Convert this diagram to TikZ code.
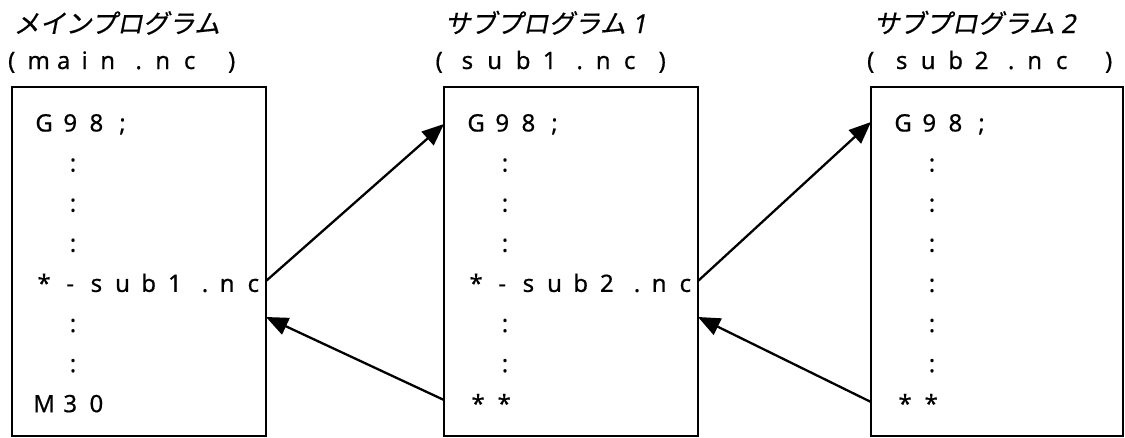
\documentclass[tikz,border=0pt]{standalone}
\usepackage{fontspec}
\setmainfont{Noto Sans}[FakeBold=0.5]
\newfontfamily\jpfont{Noto Sans CJK JP}[FakeSlant=0.2,FakeBold=0.5]
\newfontfamily\latslant{Noto Sans}[FakeSlant=0.2,FakeBold=0.5]
\usetikzlibrary{arrows.meta}
\makeatletter
\newlength\cellw \setlength\cellw{26.15pt}
\newcommand\cells[1]{\@tfor\lscc:=#1\do{\makebox[\cellw]{\lscc}}}
\makeatother
\newcommand\chat[2]{\rlap{\hspace*{#1pt}\makebox[0pt]{#2}}}
\begin{document}
\begin{tikzpicture}[x=1pt,y=-1pt,
  box/.style={draw, line width=2pt, minimum width=254pt, minimum height=349pt,
    inner sep=0pt, outer sep=0pt, anchor=north west},
  code/.style={anchor=base west, inner sep=0pt, font=\fontsize{24}{28}\selectfont},
  dotl/.style={anchor=base, inner sep=0pt, font=\fontsize{24}{28}\selectfont},
  title/.style={anchor=base west, inner sep=0pt, font=\fontsize{26}{30}\jpfont},
  fname/.style={anchor=base west, inner sep=0pt, font=\fontsize{24}{28}\selectfont},
  link/.style={line width=2.3pt, -{Triangle[length=22pt,width=18pt]}}
]
\useasboundingbox (0,0) rectangle (1125,437);

% boxes
\node[box] (b1) at (12,87) {};
\node[box] (b2) at (444,87) {};
\node[box, minimum width=252pt] (b3) at (871,87) {};

% titles
\node[title] (t1) at (13.5,33) {メインプログラム};
\node[title] (t2) at (444.5,33) {サブプログラム {\latslant 1}};
\node[title] (t3) at (873.5,33) {サブプログラム {\latslant 2}};

% file names
\node[fname] (f1) at (0,69) {\chat{11}{(}\chat{38}{m}\chat{63}{a}\chat{84}{i}\chat{107}{n}\chat{138}{.}\chat{162}{n}\chat{189}{c}\chat{231}{)}};
\node[fname] (f2) at (0,69) {\chat{438.5}{(}\chat{466.7}{s}\chat{494}{u}\chat{522.5}{b}\chat{549}{1}\chat{579}{.}\chat{602.5}{n}\chat{629}{c}\chat{661.5}{)}};
\node[fname] (f3) at (0,69) {\chat{870}{(}\chat{901}{s}\chat{927.5}{u}\chat{955}{b}\chat{981}{2}\chat{1010.5}{.}\chat{1034}{n}\chat{1061}{c}\chat{1108}{)}};

% box 1 content
\node[code] (m1) at (30.85,131.5) {\cells{G98;}};
\node[dotl] (m2) at (73,171.6) {:};
\node[dotl] (m3) at (73,211.7) {:};
\node[dotl] (m4) at (73,251.8) {:};
\node[code] (m5) at (30.85,291.9) {\cells{*-sub1{\kern8pt.}nc}};
\node[dotl] (m6) at (73,332) {:};
\node[dotl] (m7) at (73,372.1) {:};
\node[code] (m8) at (30.85,412.2) {\cells{M30}};

% box 2 content
\node[code] (s1) at (462.85,131.5) {\cells{G98;}};
\node[dotl] (s2) at (505,171.6) {:};
\node[dotl] (s3) at (505,211.7) {:};
\node[dotl] (s4) at (505,251.8) {:};
\node[code] (s5) at (462.85,291.9) {\cells{*-sub2{\kern8pt.}nc}};
\node[dotl] (s6) at (505,332) {:};
\node[dotl] (s7) at (505,372.1) {:};
\node[code] (s8) at (464.85,412.2) {\cells{**}};

% box 3 content
\node[code] (u1) at (889.85,131.5) {\cells{G98;}};
\node[dotl] (u2) at (932,171.6) {:};
\node[dotl] (u3) at (932,211.7) {:};
\node[dotl] (u4) at (932,251.8) {:};
\node[dotl] (u5) at (932,291.9) {:};
\node[dotl] (u6) at (932,332) {:};
\node[dotl] (u7) at (932,372.1) {:};
\node[code] (u8) at (891.85,412.2) {\cells{**}};

% connectors
\draw[link] (b1.north east |- 0,281) -- (b2.north west |- 0,124);
\draw[link] (b2.north west |- 0,400) -- (b1.north east |- 0,317);
\draw[link] (b2.north east |- 0,281) -- (b3.north west |- 0,122);
\draw[link] (b3.north west |- 0,402) -- (b2.north east |- 0,317);
\end{tikzpicture}
\end{document}
